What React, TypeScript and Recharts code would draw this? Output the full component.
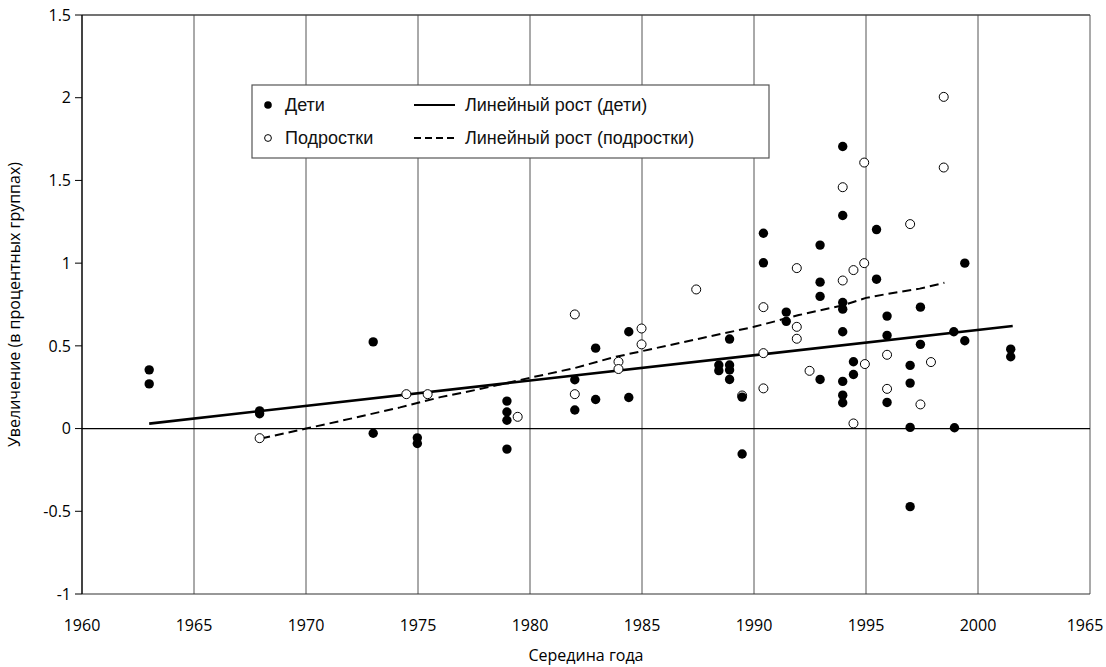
import { ScatterChart, Scatter, XAxis, YAxis, CartesianGrid, ReferenceLine } from 'recharts';

// Дети (filled dots)
const childPoints = [
  { x: 1963, y: 0.355 }, { x: 1963, y: 0.27 },
  { x: 1967.93, y: 0.107 }, { x: 1967.93, y: 0.09 },
  { x: 1973, y: 0.524 }, { x: 1973, y: -0.028 },
  { x: 1974.97, y: -0.056 }, { x: 1974.97, y: -0.09 },
  { x: 1978.97, y: 0.166 }, { x: 1978.97, y: 0.1 }, { x: 1978.97, y: 0.05 }, { x: 1978.97, y: -0.124 },
  { x: 1982, y: 0.295 }, { x: 1982, y: 0.112 },
  { x: 1982.93, y: 0.486 }, { x: 1982.93, y: 0.176 },
  { x: 1984.41, y: 0.585 }, { x: 1984.41, y: 0.188 },
  { x: 1988.43, y: 0.384 }, { x: 1988.43, y: 0.35 },
  { x: 1988.91, y: 0.541 }, { x: 1988.91, y: 0.384 }, { x: 1988.91, y: 0.354 }, { x: 1988.91, y: 0.297 },
  { x: 1989.47, y: 0.19 }, { x: 1989.47, y: -0.154 },
  { x: 1990.42, y: 1.181 }, { x: 1990.42, y: 1.002 },
  { x: 1991.44, y: 0.704 }, { x: 1991.44, y: 0.648 },
  { x: 1992.95, y: 1.109 }, { x: 1992.95, y: 0.885 }, { x: 1992.95, y: 0.799 }, { x: 1992.95, y: 0.297 },
  { x: 1993.96, y: 1.705 }, { x: 1993.96, y: 1.288 }, { x: 1993.96, y: 0.762 }, { x: 1993.96, y: 0.722 },
  { x: 1993.96, y: 0.585 }, { x: 1993.96, y: 0.285 }, { x: 1993.96, y: 0.202 }, { x: 1993.96, y: 0.156 },
  { x: 1994.44, y: 0.404 }, { x: 1994.44, y: 0.327 },
  { x: 1995.47, y: 1.203 }, { x: 1995.47, y: 0.903 },
  { x: 1995.94, y: 0.68 }, { x: 1995.94, y: 0.563 }, { x: 1995.94, y: 0.158 },
  { x: 1996.97, y: 0.382 }, { x: 1996.97, y: 0.275 }, { x: 1996.97, y: 0.007 }, { x: 1996.97, y: -0.472 },
  { x: 1997.43, y: 0.734 }, { x: 1997.43, y: 0.509 },
  { x: 1998.92, y: 0.585 }, { x: 1998.95, y: 0.005 },
  { x: 1999.41, y: 1.0 }, { x: 1999.41, y: 0.531 },
  { x: 2001.46, y: 0.48 }, { x: 2001.46, y: 0.434 },
];

// Подростки (open circles)
const teenPoints = [
  { x: 1967.93, y: -0.058 },
  { x: 1974.48, y: 0.208 }, { x: 1975.43, y: 0.208 },
  { x: 1979.45, y: 0.071 },
  { x: 1982, y: 0.69 }, { x: 1982, y: 0.208 },
  { x: 1983.95, y: 0.404 }, { x: 1983.95, y: 0.36 },
  { x: 1984.98, y: 0.605 }, { x: 1984.98, y: 0.509 },
  { x: 1987.42, y: 0.841 },
  { x: 1989.47, y: 0.2 },
  { x: 1990.42, y: 0.734 }, { x: 1990.42, y: 0.456 }, { x: 1990.42, y: 0.243 },
  { x: 1991.91, y: 0.97 }, { x: 1991.91, y: 0.615 }, { x: 1991.91, y: 0.543 },
  { x: 1992.48, y: 0.349 },
  { x: 1993.96, y: 1.459 }, { x: 1993.96, y: 0.895 },
  { x: 1994.44, y: 0.958 }, { x: 1994.44, y: 0.031 },
  { x: 1994.92, y: 1.608 }, { x: 1994.92, y: 1.0 }, { x: 1994.95, y: 0.39 },
  { x: 1995.94, y: 0.446 }, { x: 1995.94, y: 0.24 },
  { x: 1996.97, y: 1.236 },
  { x: 1997.43, y: 0.146 },
  { x: 1997.9, y: 0.402 },
  { x: 1998.47, y: 2.005 }, { x: 1998.47, y: 1.578 },
];

const childTrend = [
  { x: 1963, y: 0.03 },
  { x: 2001.55, y: 0.62 },
];

const teenTrend = [
  { x: 1968, y: -0.06 }, { x: 1970, y: 0.0 }, { x: 1972, y: 0.06 }, { x: 1974.2, y: 0.128 },
  { x: 1976, y: 0.19 }, { x: 1977.7, y: 0.237 }, { x: 1980, y: 0.307 }, { x: 1982, y: 0.366 },
  { x: 1983.7, y: 0.43 }, { x: 1985, y: 0.468 }, { x: 1987.6, y: 0.545 }, { x: 1990, y: 0.615 },
  { x: 1992, y: 0.686 }, { x: 1994, y: 0.746 }, { x: 1995, y: 0.79 }, { x: 1996.2, y: 0.82 },
  { x: 1997.4, y: 0.846 }, { x: 1998.5, y: 0.881 },
];

const xTicks = [1960, 1965, 1970, 1975, 1980, 1985, 1990, 1995, 2000, 2005];
const xTickLabels = ['1960', '1965', '1970', '1975', '1980', '1985', '1990', '1995', '2000', '1965'];
const yTicks = [-1, -0.5, 0, 0.5, 1, 1.5, 2, 2.5];
const yTickLabels = ['-1', '-0.5', '0', '0.5', '1', '1.5', '2', '1.5'];

const FONT = '"Open Sans", sans-serif';

const FilledDot = (props: any) => <circle cx={props.cx} cy={props.cy} r={4.7} fill="#000" />;
const OpenDot = (props: any) => (
  <circle cx={props.cx} cy={props.cy} r={4.5} fill="#fff" stroke="#000" strokeWidth={1} />
);
const NoDot = () => <g />;

// last label sits on the right edge, nudge it inside the picture
const XTick = (props: any) => {
  const { x, y, payload } = props;
  const i = xTicks.indexOf(payload.value);
  const shift = i === xTicks.length - 1 ? -5 : 0;
  return (
    <text x={x + shift} y={y} dy="0.71em" textAnchor="middle" fill="#000" fontSize={16} fontFamily={FONT}>
      {xTickLabels[i] ?? String(payload.value)}
    </text>
  );
};

function LegendBox() {
  return (
    <svg
      width={519}
      height={75}
      style={{ position: 'absolute', left: 251, top: 84 }}
      fontFamily='"Liberation Sans", Arial, sans-serif'
      fontSize={18}
    >
      <rect x={1} y={1} width={517} height={73} fill="#fff" stroke="#555" strokeWidth={1.2} />
      <circle cx={17} cy={21} r={3.8} fill="#000" />
      <text x={34} y={27} fill="#111">Дети</text>
      <circle cx={17} cy={54} r={3.4} fill="#fff" stroke="#000" strokeWidth={1} />
      <text x={34} y={60} fill="#111">Подростки</text>
      <line x1={163} x2={204} y1={21} y2={21} stroke="#000" strokeWidth={2} />
      <text x={214} y={27} fill="#111">Линейный рост (дети)</text>
      <line x1={163} x2={204} y1={54} y2={54} stroke="#000" strokeWidth={2} strokeDasharray="7 4" />
      <text x={214} y={60} fill="#111">Линейный рост (подростки)</text>
    </svg>
  );
}

export default function App() {
  return (
    <div style={{ position: 'absolute', left: 0, top: 0, width: 1106, height: 667, background: '#fff' }}>
      <ScatterChart width={1106} height={667} margin={{ top: 15, right: 16, bottom: 0, left: 0 }}>
        <CartesianGrid horizontal={false} vertical stroke="#555" strokeWidth={1} />
        <XAxis
          type="number"
          dataKey="x"
          domain={[1960, 2005]}
          ticks={xTicks}
          height={73}
          tickLine={false}
          tickSize={0}
          tickMargin={26}
          axisLine={{ stroke: '#333', strokeWidth: 1.2 }}
          tick={<XTick />}
          label={{ value: 'Середина года', position: 'insideBottom', offset: 6, fill: '#000', fontSize: 16, fontFamily: FONT }}
        />
        <YAxis
          type="number"
          dataKey="y"
          domain={[-1, 2.5]}
          ticks={yTicks}
          tickFormatter={(v: number) => yTickLabels[yTicks.indexOf(v)] ?? String(v)}
          width={82}
          tickSize={7}
          tickMargin={4}
          tickLine={{ stroke: '#000' }}
          axisLine={{ stroke: '#000', strokeWidth: 1.2 }}
          tick={{ fill: '#000', fontSize: 16, fontFamily: FONT }}
          label={{
            value: 'Увеличение (в процентных группах)',
            angle: -90,
            position: 'insideLeft',
            offset: 14,
            fill: '#000',
            fontSize: 16,
            fontFamily: FONT,
            style: { textAnchor: 'middle' },
          }}
        />
        <ReferenceLine y={0} stroke="#000" strokeWidth={1.2} />
        <ReferenceLine y={2.5} stroke="#444" strokeWidth={1.5} />
        <Scatter
          data={childTrend}
          line={{ stroke: '#000', strokeWidth: 2.6 }}
          shape={NoDot}
          isAnimationActive={false}
        />
        <Scatter
          data={teenTrend}
          line={{ stroke: '#000', strokeWidth: 2, strokeDasharray: '9 5' }}
          shape={NoDot}
          isAnimationActive={false}
        />
        <Scatter data={teenPoints} shape={OpenDot} isAnimationActive={false} />
        <Scatter data={childPoints} shape={FilledDot} isAnimationActive={false} />
      </ScatterChart>
      <LegendBox />
    </div>
  );
}
